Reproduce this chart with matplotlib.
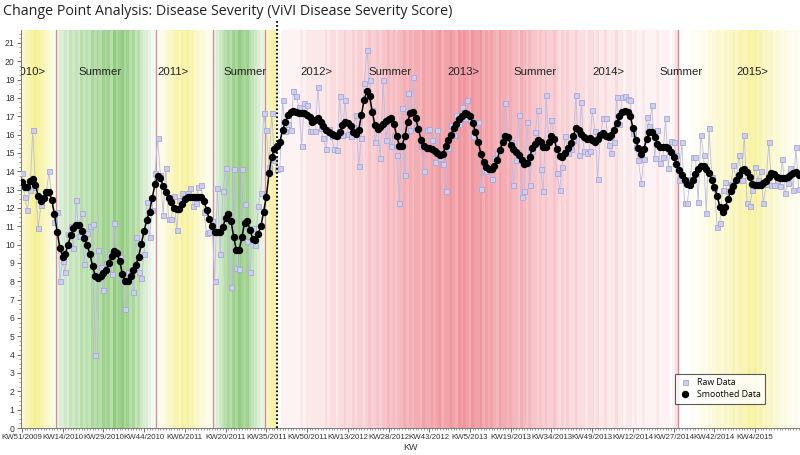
import matplotlib
matplotlib.use("Agg")
import matplotlib.pyplot as plt
from matplotlib.ticker import MultipleLocator
import numpy as np

# weekly values, week 0 = KW51/2009
smoothed = [
    13.4, 13.15, 13.15, 13.45, 13.6, 13.25, 12.65, 12.4, 12.55, 12.85,
    12.85, 12.45, 11.65, 10.7, 9.8, 9.35, 9.5, 10.0, 10.5, 10.9,
    11.05, 11.05, 10.75, 10.35, 10.0, 9.5, 8.85, 8.3, 8.2, 8.3,
    8.45, 8.6, 9.0, 9.4, 9.65, 9.55, 9.1, 8.4, 8.0, 8.0,
    8.3, 8.6, 8.9, 9.35, 10.05, 10.75, 11.35, 11.8, 12.55, 13.3,
    13.75, 13.65, 13.2, 12.85, 12.55, 12.3, 12.0, 11.95, 11.95, 12.2,
    12.5, 12.6, 12.6, 12.6, 12.6, 12.6, 12.6, 12.4, 11.9, 11.4,
    11.0, 10.7, 10.7, 10.7, 10.95, 11.45, 11.65, 11.3, 10.4, 9.7,
    9.7, 10.4, 11.2, 11.3, 10.8, 10.3, 10.25, 10.6, 11.0, 11.8,
    12.6, 13.9, 14.8, 15.2, 15.4, 15.6, 16.25, 16.7, 17.05, 17.25,
    17.3, 17.25, 17.2, 17.15, 17.15, 17.05, 16.95, 16.7, 16.8, 16.9,
    16.7, 16.45, 16.25, 16.15, 16.05, 16.0, 15.9, 16.15, 16.5, 16.7,
    16.65, 16.45, 16.15, 16.05, 16.25, 17.05, 17.9, 18.35, 18.1, 17.25,
    16.5, 16.3, 16.4, 16.6, 16.75, 16.85, 16.9, 16.6, 15.9, 15.4,
    15.4, 15.9, 16.7, 17.15, 17.25, 16.9, 16.3, 15.7, 15.4, 15.25,
    15.25, 15.2, 15.1, 15.0, 14.9, 14.95, 15.35, 15.7, 16.0, 16.35,
    16.6, 16.85, 17.0, 17.15, 17.1, 17.0, 16.65, 16.15, 15.6, 14.95,
    14.5, 14.25, 14.15, 14.15, 14.3, 14.6, 15.15, 15.6, 15.9, 15.85,
    15.45, 15.2, 15.05, 14.9, 14.6, 14.4, 14.45, 14.8, 15.25, 15.5,
    15.7, 15.6, 15.3, 15.3, 15.6, 15.9, 15.75, 15.2, 14.85, 14.8,
    15.0, 15.25, 15.55, 15.9, 16.35, 16.25, 16.05, 15.85, 15.75, 15.8,
    15.7, 15.6, 15.75, 16.0, 16.1, 15.9, 15.85, 15.95, 16.25, 16.65,
    17.0, 17.25, 17.3, 17.25, 17.0, 16.35, 15.7, 15.25, 14.95, 15.2,
    15.75, 16.15, 16.15, 15.85, 15.5, 15.3, 15.3, 15.3, 15.25, 15.05,
    14.8, 14.4, 14.05, 13.8, 13.5, 13.3, 13.25, 13.5, 13.85, 14.15,
    14.3, 14.3, 14.15, 13.9, 13.5, 13.15, 12.65, 12.05, 11.8, 12.05,
    12.5, 12.9, 13.2, 13.5, 13.8, 14.05, 14.15, 13.95, 13.7, 13.3,
    13.25, 13.25, 13.25, 13.35, 13.45, 13.7, 13.9, 13.85, 13.7, 13.65,
    13.65, 13.65, 13.7, 13.8, 13.9, 13.95, 13.8,
]

raw = [
    13.9, 12.6, 11.9, 13.0, 16.25, 13.15, 10.9, 12.15, 12.6, 12.8,
    14.0, 12.5, 11.25, 11.8, 8.0, 9.1, 8.5, 10.6, 11.0, 9.8,
    12.45, 10.45, 11.7, 8.95, 10.65, 11.0, 11.1, 4.0, 9.7, 8.8,
    7.5, 9.0, 9.5, 8.4, 11.2, 9.5, 9.3, 8.0, 6.5, 8.5,
    8.6, 7.4, 10.4, 8.5, 8.2, 9.5, 12.3, 10.4, 11.9, 13.9,
    15.8, 13.8, 11.6, 14.2, 11.4, 11.4, 12.65, 10.8, 12.45, 12.8,
    12.6, 12.8, 13.1, 12.1, 12.25, 13.15, 13.25, 11.8, 10.65, 10.7,
    11.3, 8.0, 13.1, 9.5, 12.9, 14.2, 11.65, 7.7, 14.15, 8.75,
    8.65, 14.1, 12.2, 10.2, 8.5, 10.9, 10.0, 12.1, 12.8, 17.2,
    16.25, 14.25, 17.2, 14.6, 14.1, 14.2, 17.9, 16.2, 16.6, 16.25,
    18.35, 18.1, 17.5, 15.4, 17.7, 17.6, 16.2, 16.2, 16.2, 18.6,
    16.35, 15.8, 15.2, 16.3, 15.9, 15.2, 15.15, 18.1, 16.0, 17.9,
    16.05, 15.9, 16.4, 17.05, 14.3, 15.8, 18.8, 20.6, 19.0, 17.35,
    15.6, 16.5, 14.7, 19.0, 15.7, 16.8, 15.4, 16.0, 14.9, 12.25,
    17.45, 13.8, 18.25, 16.25, 19.15, 16.4, 16.35, 15.35, 14.0, 16.25,
    16.3, 15.7, 14.5, 16.25, 14.7, 14.4, 12.9, 15.25, 16.5, 16.0,
    17.05, 16.6, 17.5, 16.9, 17.9, 16.8, 15.9, 16.2, 16.7, 13.05,
    14.05, 14.0, 14.15, 13.6, 14.7, 15.0, 15.15, 16.0, 17.7, 15.8,
    15.6, 13.25, 14.6, 17.05, 12.6, 12.9, 16.7, 13.25, 15.1, 16.15,
    17.35, 14.15, 12.9, 18.15, 15.6, 16.8, 15.8, 13.9, 13.0, 14.25,
    15.9, 15.0, 15.2, 15.7, 18.15, 14.9, 17.8, 15.1, 15.0, 15.1,
    17.35, 16.2, 13.6, 16.0, 16.9, 16.9, 15.45, 15.0, 15.6, 18.05,
    16.55, 18.05, 18.1, 17.95, 17.9, 16.1, 15.3, 14.6, 13.35, 14.65,
    16.95, 16.45, 17.6, 14.7, 16.25, 14.45, 14.75, 16.9, 14.2, 15.65,
    15.6, 14.9, 13.5, 15.6, 12.25, 12.25, 13.6, 14.8, 14.8, 12.3,
    16.0, 14.9, 11.7, 16.35, 13.7, 13.1, 10.95, 11.2, 13.0, 13.4,
    12.9, 13.3, 14.35, 13.55, 14.9, 13.55, 16.0, 12.25, 12.1, 13.0,
    14.25, 13.5, 14.0, 12.25, 13.3, 15.6, 13.25, 13.25, 13.5, 13.2,
    14.65, 12.8, 13.35, 14.2, 13.0, 15.3, 13.05,
]

# background: season of each block of weeks and the weekly shade level (0-9)
season_lengths = [13, 37, 21, 19, 4, 152, 41]
season_kinds = ["winter", "summer", "winter", "summer", "winter", "cp", "winter"]
shade_levels = (
    "3567898765432"
    "2334354546565767687869789786756433211"
    "122345676878675433221"
    "2345676879878654322"
    "5678"
    "00111111121222222"
    "23233233433434434544"
    "54556565667676776877"
    "87897889879898798897"
    "87876877676657656554"
    "54544543434334333233"
    "23223222322122121121"
    "111211110131000"
    "01112223334435456567678786756453432322121"
)
segment_lines = [12.5, 49.5, 70.5, 89.5, 241.5]
change_point = 94.1

season_labels = ["2010>", "Summer", "2011>", "Summer", "2012>", "Summer",
                 "2013>", "Summer", "2014>", "Summer", "2015>"]
season_label_weeks = [-3.0, 28.7, 55.5, 82, 108.5, 135.7, 162.5, 189, 215.8, 242.6, 269]

tick_labels = ["KW51/2009", "KW14/2010", "KW29/2010", "KW44/2010", "KW6/2011",
               "KW20/2011", "KW35/2011", "KW50/2011", "KW13/2012", "KW28/2012",
               "KW43/2012", "KW5/2013", "KW19/2013", "KW34/2013", "KW49/2013",
               "KW12/2014", "KW27/2014", "KW42/2014", "KW4/2015"]

base_colors = {"winter": (0.95, 0.92, 0.45), "summer": (0.47, 0.75, 0.38),
               "cp": (0.92, 0.47, 0.51)}
max_alpha = {"winter": 0.75, "summer": 0.8, "cp": 0.78}

fig = plt.figure(figsize=(8.0, 4.55), dpi=100)
ax = fig.add_axes([0.026, 0.0593, 0.974, 0.8747])

weeks = np.arange(len(smoothed))
kinds = []
for kind, n in zip(season_kinds, season_lengths):
    kinds += [kind] * n
for w, kind, lev in zip(weeks, kinds, shade_levels):
    a = int(lev) / 9 * max_alpha[kind]
    c = np.array(base_colors[kind]) * a + (1 - a)
    ax.axvspan(w - 0.5, w + 0.5, color=c, lw=0, zorder=0)

for x in segment_lines:
    ax.axvline(x, color="#d98a90", lw=0.9, zorder=1)
ax.axvline(change_point, ymin=0, ymax=1.025, color="black", lw=1.3,
           ls=(0, (1, 1.2)), zorder=5, clip_on=False)

ax.plot(weeks, raw, "-", color="#bcbce4", lw=0.6, zorder=2)
ax.plot(weeks, raw, "s", ms=3.6, mfc="#cdcdf0", mec="#a8a8d8", mew=0.6,
        ls="none", zorder=3, label="Raw Data")
ax.plot(weeks, smoothed, "-o", color="black", ms=4.3, lw=1.1, zorder=4,
        label="Smoothed Data")

for lab, w in zip(season_labels, season_label_weeks):
    ax.text(w, 19.4, lab, ha="left" if w < 0 else "center", va="center",
            fontsize=8.2, family="Liberation Sans", color="#222222",
            clip_on=True, zorder=6)

ax.set_xlim(-0.4, 286.5)
ax.set_ylim(0, 21.7)
ax.set_xticks(np.arange(0, 271, 15))
ax.set_xticklabels(tick_labels, fontsize=5.7, family="Liberation Sans",
                   color="#333333")
ax.xaxis.set_minor_locator(MultipleLocator(1))
ax.set_yticks(range(0, 22))
ax.set_yticklabels([str(v) for v in range(0, 22)], fontsize=6.2,
                   family="Liberation Sans", color="#333333")
ax.yaxis.set_minor_locator(MultipleLocator(0.25))
ax.tick_params(axis="both", which="major", length=3, width=0.6, pad=1.5,
               color="#555555")
ax.tick_params(axis="both", which="minor", length=1.5, width=0.5,
               color="#777777")
ax.set_xlabel("KW", fontsize=6.5, family="Liberation Sans", color="#333333",
              labelpad=1)
for side in ["top", "right"]:
    ax.spines[side].set_visible(False)
for side in ["left", "bottom"]:
    ax.spines[side].set_color("#666666")
    ax.spines[side].set_linewidth(0.6)

leg = ax.legend(loc="lower right", bbox_to_anchor=(0.961, 0.05),
                frameon=True, fancybox=False, edgecolor="#333333",
                handlelength=1.2, borderpad=0.5, labelspacing=0.35,
                prop={"family": "Open Sans", "size": 6.3})
leg.get_frame().set_linewidth(0.8)
for h in leg.legend_handles:
    h.set_linestyle("none")

fig.text(0.004, 0.974, "Change Point Analysis: Disease Severity (ViVI Disease Severity Score)",
         fontsize=10.3, family="Open Sans", color="#222222", va="center", ha="left")

fig.savefig("out.png", dpi=100)
